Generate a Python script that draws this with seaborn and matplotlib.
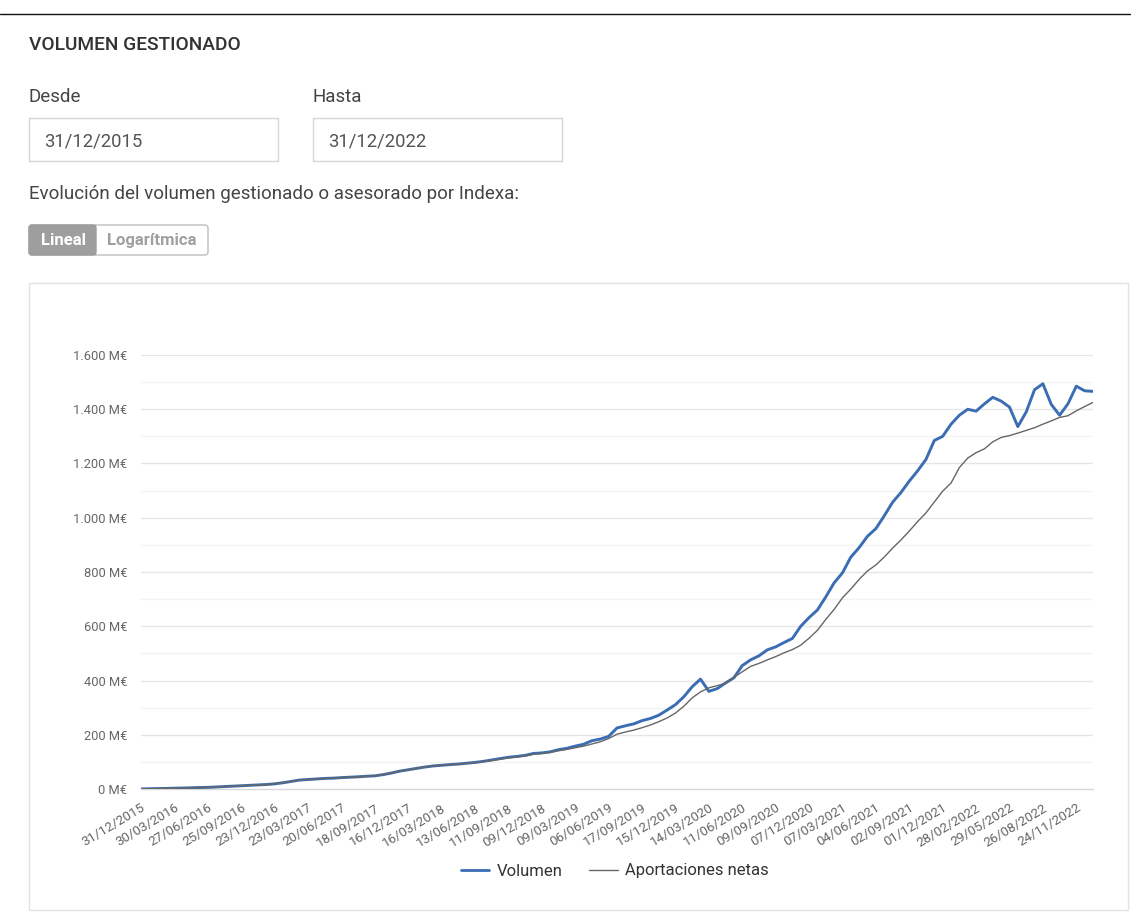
import numpy as np
import pandas as pd
import matplotlib
matplotlib.use("Agg")
import matplotlib.pyplot as plt
from matplotlib.patches import Rectangle, FancyBboxPatch
from matplotlib.lines import Line2D
import seaborn as sns

# ---------------- data ----------------
tick_dates = ["31/12/2015", "30/03/2016", "27/06/2016", "25/09/2016", "23/12/2016",
              "23/03/2017", "20/06/2017", "18/09/2017", "16/12/2017", "16/03/2018",
              "13/06/2018", "11/09/2018", "09/12/2018", "09/03/2019", "06/06/2019",
              "17/09/2019", "15/12/2019", "14/03/2020", "11/06/2020", "09/09/2020",
              "07/12/2020", "07/03/2021", "04/06/2021", "02/09/2021", "01/12/2021",
              "28/02/2022", "29/05/2022", "26/08/2022", "24/11/2022"]

volumen = [0, 1, 1.5, 2, 3, 3.5, 4.5, 5.5, 6, 7.5,
           9, 10.5, 12, 13.5, 15, 16.5, 19, 23, 28, 33,
           35, 37, 39, 40, 42, 43.5, 45, 47, 48.5, 53,
           59, 66, 71, 76, 81, 85, 87.5, 90, 92, 95,
           98, 102, 107, 112, 117, 120, 124, 131, 133, 137,
           145, 150, 158, 165, 178, 184, 194, 225, 233, 240,
           252, 260, 272, 291, 311, 340, 377, 405, 360, 370,
           391, 410, 455, 476, 491, 513, 524, 540, 555, 600,
           632, 660, 708, 760, 797, 855, 890, 932, 960, 1007,
           1057, 1093, 1135, 1173, 1215, 1285, 1300, 1345, 1378, 1400,
           1393, 1420, 1444, 1430, 1408, 1336, 1390, 1472, 1494, 1418,
           1378, 1420, 1485, 1468, 1466]

aportaciones = [0, 1, 1.5, 2, 3, 3.5, 4.5, 5.5, 6, 7.5,
                9, 10.5, 12, 13.5, 15, 16.5, 19, 23, 28, 33,
                35, 37, 39, 40, 42, 43.5, 45, 47, 48.5, 53,
                59, 66, 71, 76, 81, 85, 87.5, 90, 92, 95,
                97, 101, 105, 110, 115, 118, 122, 128, 131, 135,
                141, 146, 152, 158, 166, 174, 186, 202, 210, 217,
                226, 236, 248, 262, 280, 305, 336, 358, 373, 381,
                390, 412, 432, 452, 463, 476, 488, 502, 514, 530,
                556, 585, 625, 662, 705, 737, 773, 804, 826, 855,
                888, 918, 951, 986, 1018, 1058, 1098, 1128, 1185, 1220,
                1240, 1254, 1280, 1296, 1303, 1312, 1322, 1332, 1345, 1357,
                1370, 1376, 1394, 1410, 1425]

y_ticks = [0, 200, 400, 600, 800, 1000, 1200, 1400, 1600]
y_labels = ["0 M€", "200 M€", "400 M€", "600 M€", "800 M€",
            "1.000 M€", "1.200 M€", "1.400 M€", "1.600 M€"]
series_names = ["Volumen", "Aportaciones netas"]
series_colors = ["#3a6db3", "#666666"]

# ---------------- figure ----------------
sns.set_theme(style="white")
plt.rcParams["font.family"] = ["Roboto", "DejaVu Sans"]

W, H = 1132, 915
fig = plt.figure(figsize=(W / 100, H / 100), dpi=100)
fig.patch.set_facecolor("white")

bg = fig.add_axes([0, 0, 1, 1], zorder=0)
bg.set_xlim(0, W)
bg.set_ylim(H, 0)
bg.axis("off")

# top rule
bg.plot([0, 1130], [14, 14], color="#111111", lw=1.0)

bg.text(29, 45, "VOLUMEN GESTIONADO", fontsize=13.8, fontweight="medium",
        color="#333333", va="center", ha="left")
bg.text(29, 97, "Desde", fontsize=13.5, color="#444444", va="center")
bg.text(313, 97, "Hasta", fontsize=13.5, color="#444444", va="center")

for x0, val in [(29, "31/12/2015"), (313, "31/12/2022")]:
    bg.add_patch(Rectangle((x0, 118), 249, 43, facecolor="white",
                           edgecolor="#d6d6d6", lw=1.0))
    bg.text(x0 + 15, 141, val, fontsize=13.3, color="#555555", va="center")

bg.text(29, 194, "Evolución del volumen gestionado o asesorado por Indexa:",
        fontsize=13.5, color="#444444", va="center")

# toggle buttons
bg.add_patch(FancyBboxPatch((29, 225), 179, 30, boxstyle="round,pad=0,rounding_size=3",
                            facecolor="white", edgecolor="#bdbdbd", lw=1.0))
bg.add_patch(FancyBboxPatch((29, 225), 67, 30, boxstyle="round,pad=0,rounding_size=3",
                            facecolor="#9e9e9e", edgecolor="#9e9e9e", lw=1.0))
bg.add_patch(Rectangle((90, 225), 6, 30, facecolor="#9e9e9e", edgecolor="none"))
bg.text(63, 240.5, "Lineal", fontsize=12, fontweight="bold", color="white",
        ha="center", va="center")
bg.text(152, 240.5, "Logarítmica", fontsize=12, fontweight="bold", color="#a0a0a0",
        ha="center", va="center")

# chart card
bg.add_patch(Rectangle((29, 283), 1099, 627, facecolor="white",
                       edgecolor="#e3e3e3", lw=1.0))

# ---------------- chart ----------------
left, right, top, bottom = 141, 1093, 355, 789
ax = fig.add_axes([left / W, 1 - bottom / H, (right - left) / W, (bottom - top) / H], zorder=2)
ax.patch.set_alpha(0)

idx = np.arange(len(volumen))
df = pd.DataFrame({
    "idx": np.concatenate([idx, idx]),
    "valor": np.concatenate([volumen, aportaciones]),
    "serie": [series_names[0]] * len(volumen) + [series_names[1]] * len(aportaciones),
})

# minor gridlines (every 100) and major (every 200)
for v in range(100, 1600, 200):
    ax.axhline(v, color="#f3f3f3", lw=1.0, zorder=0)
for v in y_ticks[1:]:
    ax.axhline(v, color="#e6e6e6", lw=1.0, zorder=0)

sns.lineplot(data=df[df.serie == series_names[0]], x="idx", y="valor",
             color=series_colors[0], lw=2.1, ax=ax, legend=False, zorder=3)
sns.lineplot(data=df[df.serie == series_names[1]], x="idx", y="valor",
             color=series_colors[1], lw=1.0, ax=ax, legend=False, zorder=4)

ax.set_xlim(0, len(volumen) - 1)
ax.set_ylim(0, 1600)
ax.set_xlabel("")
ax.set_ylabel("")
ax.set_yticks(y_ticks)
ax.set_yticklabels(y_labels)
ax.set_xticks(np.arange(len(tick_dates)) * 4)
ax.set_xticklabels(tick_dates, rotation=31, ha="right", rotation_mode="anchor")
ax.tick_params(axis="y", length=0, pad=10, labelsize=9.3, labelcolor="#666666")
ax.tick_params(axis="x", length=0, pad=9, labelsize=9.6, labelcolor="#666666")
for s in ["left", "right", "top"]:
    ax.spines[s].set_visible(False)
ax.spines["bottom"].set_color("#d8d8d8")
ax.spines["bottom"].set_linewidth(1.0)

# legend
handles = [Line2D([0], [0], color=series_colors[0], lw=2.0),
           Line2D([0], [0], color=series_colors[1], lw=1.0)]
fig.legend(handles, series_names, loc="center", bbox_to_anchor=(615 / W, 1 - 871 / H),
           ncol=2, frameon=False, fontsize=12, handlelength=1.7, handletextpad=0.45,
           columnspacing=1.6, labelcolor="#333333")

fig.savefig("out.png", dpi=100)
